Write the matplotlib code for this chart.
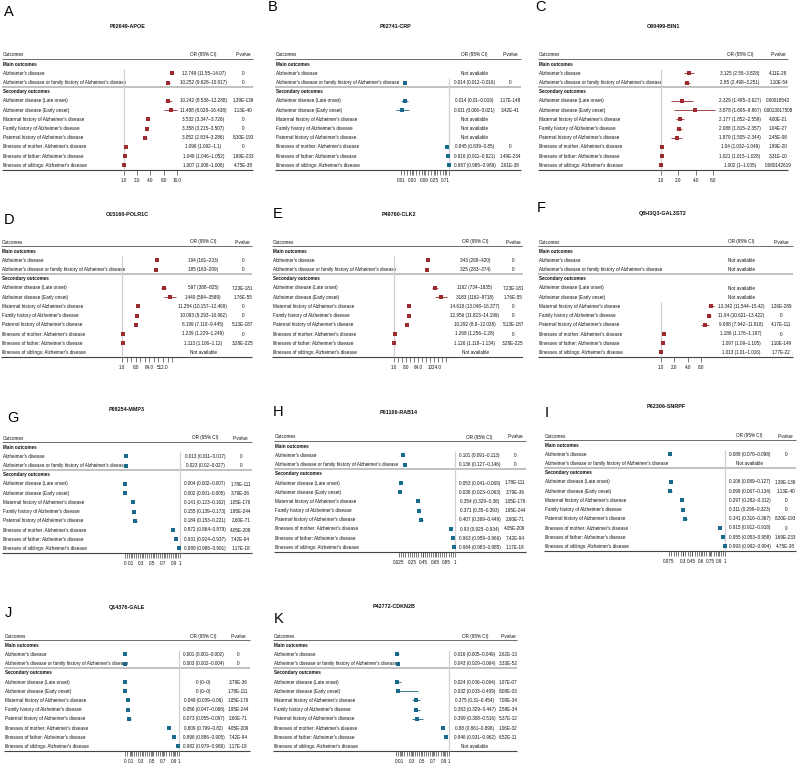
import numpy as np
import matplotlib as mpl
mpl.use('Agg')
import matplotlib.pyplot as plt
from matplotlib.ticker import NullFormatter

plt.rcParams['font.family'] = ['Liberation Sans', 'DejaVu Sans']

W, H = 799, 764
RH = 9.2          # row height in pixels
FS = 3.35         # table font size
RED = '#9c2a2e'
BLUE = '#18698c'
na = np.nan

outcome_labels = ["Alzheimer's disease",
                  "Alzheimer's disease or family history of Alzheimer's disease",
                  "Alzheimer disease (Late onset)",
                  "Alzheimer disease (Early onset)",
                  "Maternal history of Alzheimer's disease",
                  "Family history of Alzheimer's disease",
                  "Paternal history of Alzheimer's disease",
                  "Illnesses of mother: Alzheimer's disease",
                  "Illnesses of father: Alzheimer's disease",
                  "Illnesses of siblings: Alzheimer's disease"]
outcome_rows = [2, 3, 5, 6, 7, 8, 9, 10, 11, 12]

# A  P02649-APOE
apoe_or = [12.749, 10.252, 10.242, 11.488, 3.532, 3.358, 3.052, 1.096, 1.049, 1.007]
apoe_lo = [11.55, 9.628, 8.536, 8.028, 3.347, 3.215, 2.834, 1.092, 1.046, 1.006]
apoe_hi = [14.07, 10.917, 12.288, 16.438, 3.726, 3.507, 3.286, 1.1, 1.052, 1.008]
apoe_p = ['0', '0', '1.39E-139', '1.13E-40', '0', '0', '8.30E-193', '0', '1.69E-233', '4.75E-38']

# B  P02741-CRP
crp_or = [na, 0.014, 0.014, 0.011, na, na, na, 0.845, 0.916, 0.987]
crp_lo = [na, 0.012, 0.01, 0.006, na, na, na, 0.839, 0.911, 0.985]
crp_hi = [na, 0.016, 0.019, 0.021, na, na, na, 0.85, 0.921, 0.989]
crp_p = ['', '0', '1.17E-148', '3.42E-41', '', '', '', '0', '1.49E-234', '2.61E-38']

# C  O00499-BIN1
bin1_or = [3.125, 2.85, 2.329, 3.878, 2.177, 2.088, 1.879, 1.04, 1.021, 1.002]
bin1_lo = [2.55, 2.498, 1.495, 1.695, 1.852, 1.815, 1.505, 1.032, 1.015, 1.0]
bin1_hi = [3.828, 3.251, 3.627, 8.867, 2.559, 2.357, 2.344, 1.049, 1.028, 1.005]
bin1_p = ['4.11E-28', '1.10E-54', '0.00018542', '0.0013017508', '4.00E-21', '1.04E-27',
          '2.45E-08', '1.99E-20', '3.31E-10', '0.080142619']

# D  O15160-POLR1C
polr1c_or = [194, 185, 597, 1440, 11.254, 10.093, 8.199, 1.239, 1.113, na]
polr1c_lo = [161, 163, 388, 584, 10.157, 9.293, 7.118, 1.229, 1.106, na]
polr1c_hi = [233, 209, 825, 3589, 12.469, 10.962, 9.445, 1.249, 1.12, na]
polr1c_p = ['0', '0', '7.23E-181', '1.76E-55', '0', '0', '5.13E-187', '0', '3.28E-225', '']

# E  P49760-CLK2
clk2_or = [343, 325, 1162, 3183, 14.618, 12.956, 10.292, 1.268, 1.126, na]
clk2_lo = [268, 283, 734, 1162, 13.048, 11.823, 8.8, 1.256, 1.118, na]
clk2_hi = [420, 374, 1835, 8718, 16.377, 14.199, 12.038, 1.28, 1.134, na]
clk2_p = ['0', '0', '7.23E-181', '1.76E-55', '0', '0', '5.13E-187', '0', '3.28E-225', '']

# F  Q8H3Q3-GAL3ST2
gal3st2_or = [na, na, na, na, 13.342, 11.94, 9.688, 1.186, 1.097, 1.013]
gal3st2_lo = [na, na, na, na, 11.544, 10.621, 7.942, 1.176, 1.09, 1.01]
gal3st2_hi = [na, na, na, na, 15.42, 13.422, 11.818, 1.197, 1.105, 1.016]
gal3st2_p = ['', '', '', '', '1.26E-289', '0', '4.17E-111', '0', '1.10E-149', '1.77E-22']

# G  P08254-MMP3
mmp3_or = [0.013, 0.023, 0.004, 0.002, 0.141, 0.155, 0.184, 0.872, 0.931, 0.989]
mmp3_lo = [0.011, 0.02, 0.002, 0.001, 0.123, 0.139, 0.153, 0.864, 0.924, 0.986]
mmp3_hi = [0.017, 0.027, 0.007, 0.005, 0.162, 0.173, 0.221, 0.879, 0.937, 0.991]
mmp3_p = ['0', '0', '1.78E-111', '3.79E-36', '1.05E-176', '1.95E-244', '2.60E-71',
          '4.05E-209', '7.42E-94', '1.17E-18']

# H  P61106-RAB14
rab14_or = [0.101, 0.136, 0.053, 0.038, 0.354, 0.371, 0.407, 0.93, 0.963, 0.984]
rab14_lo = [0.091, 0.127, 0.041, 0.023, 0.329, 0.35, 0.369, 0.925, 0.959, 0.983]
rab14_hi = [0.113, 0.146, 0.069, 0.063, 0.38, 0.393, 0.449, 0.934, 0.966, 0.985]
rab14_p = ['0', '0', '1.78E-111', '3.79E-36', '1.05E-176', '1.95E-244', '2.60E-71',
           '4.05E-209', '7.42E-94', '1.17E-18']

# I  P62306-SNRPF
snrpf_or = [0.088, na, 0.106, 0.098, 0.297, 0.311, 0.341, 0.915, 0.955, 0.993]
snrpf_lo = [0.078, na, 0.089, 0.067, 0.282, 0.299, 0.316, 0.912, 0.953, 0.992]
snrpf_hi = [0.098, na, 0.127, 0.134, 0.312, 0.323, 0.367, 0.918, 0.958, 0.994]
snrpf_p = ['0', '', '1.39E-139', '1.13E-40', '0', '0', '8.30E-193', '0', '1.69E-233', '4.75E-38']

# J  Q14376-GALE
gale_or = [0.001, 0.003, 0.0, 0.0, 0.049, 0.056, 0.073, 0.809, 0.896, 0.982]
gale_lo = [0.001, 0.002, 0.0, 0.0, 0.039, 0.047, 0.055, 0.799, 0.886, 0.979]
gale_hi = [0.002, 0.004, 0.0, 0.0, 0.06, 0.066, 0.097, 0.82, 0.905, 0.986]
gale_p = ['0', '0', '3.79E-36', '1.78E-111', '1.05E-176', '1.95E-244', '2.60E-71',
          '4.05E-209', '7.42E-94', '1.17E-18']

# K  P42772-CDKN2B
cdkn2b_or = [0.016, 0.043, 0.024, 0.032, 0.375, 0.383, 0.399, 0.88, 0.946, na]
cdkn2b_lo = [0.005, 0.029, 0.006, 0.003, 0.31, 0.329, 0.308, 0.861, 0.931, na]
cdkn2b_hi = [0.049, 0.064, 0.094, 0.409, 0.454, 0.447, 0.516, 0.898, 0.962, na]
cdkn2b_p = ['2.62E-13', '3.33E-52', '1.07E-07', '8.08E-03', '7.08E-34', '2.58E-34',
            '5.37E-12', '1.06E-32', '6.52E-11', '']

ticks_log2_small = [1, 2, 4, 8]
ticks_lin = [0, 0.1, 0.3, 0.5, 0.7, 0.9, 1]
labels_lin = ['0', '0.1', '0.3', '0.5', '0.7', '0.9', '1']

panels = [
    dict(letter='A', title='P02649-APOE', data=(apoe_or, apoe_lo, apoe_hi, apoe_p), color=RED,
         box=(0, 262), x0=3, top=55, or_c=203.5, p_c=243, right=253,
         scale='log', xlim=(1, 16.5), xpix=(124, 177.4),
         ticks=[1, 2, 4, 8, 16], labels=['1.0', '2.0', '4.0', '8.0', '16.0'], minor=[],
         title_xy=(128, 26), letter_xy=(4, 12)),
    dict(letter='B', title='P02741-CRP', data=(crp_or, crp_lo, crp_hi, crp_p), color=BLUE,
         box=(266, 530), x0=276, top=55, or_c=474.5, p_c=510, right=521,
         scale='log', xlim=(0.01, 1), xpix=(401, 449),
         ticks=[0.01, 0.03, 0.09, 0.25, 0.71], labels=['0.01', '0.03', '0.09', '0.25', '0.71'],
         minor=np.geomspace(0.01, 1, 17), title_xy=(396, 26), letter_xy=(268, 7)),
    dict(letter='C', title='O00499-BIN1', data=(bin1_or, bin1_lo, bin1_hi, bin1_p), color=RED,
         box=(533, 799), x0=539, top=55, or_c=740, p_c=778.5, right=788,
         scale='log', xlim=(1, 9), xpix=(661, 715.8),
         ticks=ticks_log2_small, labels=['1.0', '2.0', '4.0', '8.0'], minor=[],
         title_xy=(663, 26), letter_xy=(535, 7)),
    dict(letter='D', title='O15160-POLR1C', data=(polr1c_or, polr1c_lo, polr1c_hi, polr1c_p), color=RED,
         box=(0, 262), x0=2, top=242, or_c=203, p_c=242.7, right=252,
         scale='log', xlim=(1, 4096), xpix=(122, 176.6),
         ticks=[1, 8, 64, 512], labels=['1.0', '8.0', '64.0', '512.0'],
         minor=[2 ** k for k in range(12)], title_xy=(127, 214), letter_xy=(4, 220)),
    dict(letter='E', title='P49760-CLK2', data=(clk2_or, clk2_lo, clk2_hi, clk2_p), color=RED,
         box=(266, 523), x0=273, top=242, or_c=475, p_c=513, right=532,
         scale='log', xlim=(1, 16384), xpix=(393.7, 450.4),
         ticks=[1, 8, 64, 1024], labels=['1.0', '8.0', '64.0', '1024.0'],
         minor=[2 ** k for k in range(14)], title_xy=(399, 214), letter_xy=(273, 214)),
    dict(letter='F', title='Q8H3Q3-GAL3ST2', data=(gal3st2_or, gal3st2_lo, gal3st2_hi, gal3st2_p), color=RED,
         box=(533, 799), x0=539, top=242, or_c=741, p_c=781.3, right=793,
         scale='log', xlim=(1, 16), xpix=(660.7, 714.7),
         ticks=ticks_log2_small, labels=['1.0', '2.0', '4.0', '8.0'], minor=[],
         title_xy=(663, 213), letter_xy=(537, 208)),
    dict(letter='G', title='P08254-MMP3', data=(mmp3_or, mmp3_lo, mmp3_hi, mmp3_p), color=BLUE,
         box=(0, 262), x0=3, top=438, or_c=205, p_c=240.7, right=252,
         scale='linear', xlim=(0, 1), xpix=(125, 180),
         ticks=ticks_lin, labels=labels_lin, minor=np.linspace(0, 1, 26),
         title_xy=(127, 409), letter_xy=(7, 418)),
    dict(letter='H', title='P61106-RAB14', data=(rab14_or, rab14_lo, rab14_hi, rab14_p), color=BLUE,
         box=(266, 530), x0=275, top=437, or_c=479.5, p_c=515, right=526,
         scale='linear', xlim=(0, 1), xpix=(397.6, 455),
         ticks=[0.025, 0.25, 0.45, 0.65, 0.85, 1], labels=['0.025', '0.25', '0.45', '0.65', '0.85', '1'],
         minor=np.linspace(0.025, 1, 27), title_xy=(399, 413), letter_xy=(273, 412)),
    dict(letter='I', title='P62306-SNRPF', data=(snrpf_or, snrpf_lo, snrpf_hi, snrpf_p), color=BLUE,
         box=(533, 799), x0=545, top=436, or_c=749.7, p_c=785.7, right=796,
         scale='linear', xlim=(0, 1), xpix=(664.3, 725.3),
         ticks=[0.075, 0.3, 0.45, 0.6, 0.75, 0.9, 1], labels=['0.075', '0.3', '0.45', '0.6', '0.75', '0.9', '1'],
         minor=np.linspace(0.075, 1, 25), title_xy=(666, 407), letter_xy=(545, 413)),
    dict(letter='J', title='Q14376-GALE', data=(gale_or, gale_lo, gale_hi, gale_p), color=BLUE,
         box=(0, 262), x0=5, top=636, or_c=203.7, p_c=238.3, right=250,
         scale='linear', xlim=(0, 1), xpix=(125.3, 179.3),
         ticks=ticks_lin, labels=labels_lin, minor=np.linspace(0, 1, 26),
         title_xy=(127, 607), letter_xy=(5, 613)),
    dict(letter='K', title='P42772-CDKN2B', data=(cdkn2b_or, cdkn2b_lo, cdkn2b_hi, cdkn2b_p), color=BLUE,
         box=(266, 530), x0=274, top=636, or_c=474.8, p_c=508, right=516.7,
         scale='linear', xlim=(0, 1), xpix=(395.9, 449),
         ticks=ticks_lin, labels=labels_lin, minor=np.linspace(0, 1, 26),
         title_xy=(394, 606), letter_xy=(274, 619)),
]

fig = plt.figure(figsize=(W / 100, H / 100), dpi=100)


def fmt(v):
    return f"{v:g}"


def draw_panel(p):
    est, lo, hi, pv = p['data']
    l, r = p['box']
    top = p['top']
    x0, right = p['x0'], p['right']

    fig.text(p['letter_xy'][0] / W, 1 - p['letter_xy'][1] / H, p['letter'],
             fontsize=10.5, ha='left', va='center', color='black')
    fig.text(p['title_xy'][0] / W, 1 - p['title_xy'][1] / H, p['title'],
             fontsize=3.9, fontweight='bold', ha='center', va='center', color='#111111')

    # table part
    ytop, ybot = top - 1.5 * RH, top + 14.8 * RH
    tab = fig.add_axes([l / W, 1 - ybot / H, (r - l) / W, (ybot - ytop) / H])
    tab.set_xlim(l, r)
    tab.set_ylim((ybot - top) / RH, (ytop - top) / RH)
    tab.axis('off')

    kw = dict(fontsize=FS, va='center', color='#111111', clip_on=True)
    tab.text(x0, 0, 'Outcomes', ha='left', **kw)
    tab.text(p['or_c'], 0, 'OR (95% CI)', ha='center', **kw)
    tab.text(p['p_c'], 0, 'P-value', ha='center', **kw)
    tab.text(x0, 1, 'Main outcomes', ha='left', fontweight='bold', **kw)
    tab.text(x0, 4, 'Secondary outcomes', ha='left', fontweight='bold', **kw)
    for i, row in enumerate(outcome_rows):
        tab.text(x0, row, outcome_labels[i], ha='left', **kw)
        if np.isnan(est[i]):
            tab.text(p['or_c'], row, 'Not available', ha='center', **kw)
        else:
            tab.text(p['or_c'], row, f"{fmt(est[i])} ({fmt(lo[i])}\u2013{fmt(hi[i])})", ha='center', **kw)
            tab.text(p['p_c'], row, pv[i], ha='center', **kw)

    tab.hlines(0.45, x0 - 1, right, colors='#555555', lw=0.6)
    tab.hlines(3.5, x0 - 1, right, colors='#b0b0b0', lw=1.1)
    tab.hlines(12.55, x0 - 1, right, colors='#444444', lw=0.8)

    # forest part
    p0, p1 = p['xpix']
    y0, y1 = top + 0.45 * RH, top + 12.55 * RH
    fa = fig.add_axes([p0 / W, 1 - y1 / H, (p1 - p0) / W, (y1 - y0) / H])
    fa.set_xscale(p['scale'])
    fa.set_xlim(*p['xlim'])
    fa.set_ylim(12.55, 0.45)
    for s in fa.spines.values():
        s.set_visible(False)
    fa.patch.set_visible(False)
    fa.set_yticks([])
    fa.set_xticks(p['ticks'], p['labels'])
    fa.set_xticks(p['minor'], minor=True)
    fa.xaxis.set_minor_formatter(NullFormatter())
    fa.tick_params(axis='x', which='both', length=3.6, width=0.45, color='#333333',
                   labelsize=FS, labelcolor='#111111', pad=1.6, direction='out')

    valid = [row for i, row in enumerate(outcome_rows) if not np.isnan(est[i])]
    fa.vlines(1, min(valid) - 0.5, 12.55, colors='#d2d2d2', lw=0.9, zorder=0, clip_on=False)

    for i, row in enumerate(outcome_rows):
        if np.isnan(est[i]):
            continue
        fa.errorbar(est[i], row, xerr=[[est[i] - lo[i]], [hi[i] - est[i]]], fmt='s',
                    ms=2.9, color=p['color'], ecolor=p['color'], elinewidth=0.6,
                    capsize=1.1, capthick=0.6, mew=0, clip_on=False, zorder=3)


for p in panels:
    draw_panel(p)

fig.savefig('out.png', dpi=100)
